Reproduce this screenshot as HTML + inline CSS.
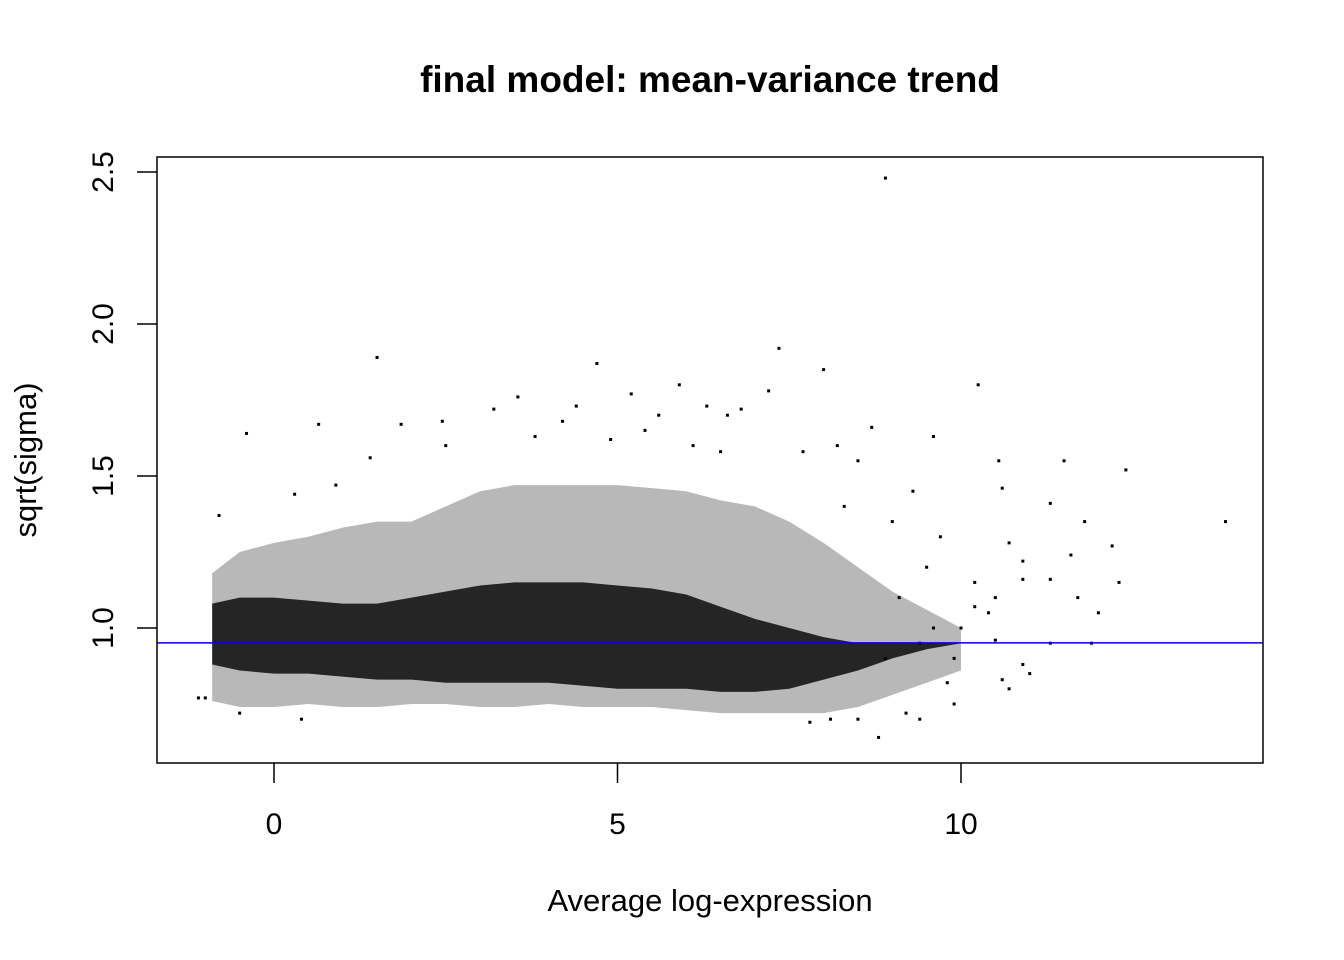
<!DOCTYPE html>
<html><head><meta charset="utf-8"><style>
body{margin:0;background:#fff;}
svg{display:block;font-family:"Liberation Sans",Arial,sans-serif;}
</style></head><body>
<svg id="chart" width="1344" height="960">
<text x="710" y="92" text-anchor="middle" font-size="37" font-weight="bold">final model: mean-variance trend</text>
<text x="710" y="911" text-anchor="middle" font-size="31">Average log-expression</text>
<text transform="translate(36,460) rotate(-90)" text-anchor="middle" font-size="31">sqrt(sigma)</text>
<g id="plot"></g>
<rect x="157" y="157" width="1106" height="606" fill="none" stroke="#000" stroke-width="1.5"/>
</svg>
<script>
const xTicks=[0,5,10];
const yTicks=[1.0,1.5,2.0,2.5];
const yTickLabels=["1.0","1.5","2.0","2.5"];
const trendValue=0.951;
const binX=[-0.9,-0.5,0,0.5,1,1.5,2,2.5,3,3.5,4,4.5,5,5.5,6,6.5,7,7.5,8,8.5,9,9.5,10];
const envLow=[0.76,0.74,0.74,0.75,0.74,0.74,0.75,0.75,0.74,0.74,0.75,0.74,0.74,0.74,0.73,0.72,0.72,0.72,0.72,0.74,0.78,0.82,0.86];
const envHigh=[1.18,1.25,1.28,1.3,1.33,1.35,1.35,1.4,1.45,1.47,1.47,1.47,1.47,1.46,1.45,1.42,1.4,1.35,1.28,1.2,1.12,1.06,1.0];
const coreLow=[0.88,0.86,0.85,0.85,0.84,0.83,0.83,0.82,0.82,0.82,0.82,0.81,0.8,0.8,0.8,0.79,0.79,0.8,0.83,0.86,0.9,0.93,0.95];
const coreHigh=[1.08,1.1,1.1,1.09,1.08,1.08,1.1,1.12,1.14,1.15,1.15,1.15,1.14,1.13,1.11,1.07,1.03,1.0,0.97,0.95,0.95,0.95,0.95];
const outX=[-0.4,1.5,0.65,1.85,2.45,3.55,4.4,4.7,5.2,5.9,6.3,7.35,7.2,8.0,8.9,10.25,9.6,10.55,11.5,12.4,13.85,11.3,11.8,12.2,12.3,11.7,12.0,11.3,11.6,10.7,10.9,10.5,10.6,10.7,10.9,11.3,11.9,10.5,10.2,10.0,9.8,9.4,9.9,8.8,9.2,9.5,9.0,9.3,8.5,8.7,8.2,7.7,6.8,6.6,10.6,10.9,9.7,10.2,9.9,8.5,7.8,8.1,-1.1,-1.0,-0.5,0.4,-0.8,0.3,0.9,1.4,2.5,3.2,3.8,4.2,5.6,6.1,6.5,5.4,4.9,9.1,9.6,10.4,11.0,8.3,8.9,9.4];
const outY=[1.64,1.89,1.67,1.67,1.68,1.76,1.73,1.87,1.77,1.8,1.73,1.92,1.78,1.85,2.48,1.8,1.63,1.55,1.55,1.52,1.35,1.41,1.35,1.27,1.15,1.1,1.05,1.16,1.24,1.28,1.16,1.1,0.83,0.8,0.88,0.95,0.95,0.96,1.07,1.0,0.82,0.7,0.75,0.64,0.72,1.2,1.35,1.45,1.55,1.66,1.6,1.58,1.72,1.7,1.46,1.22,1.3,1.15,0.9,0.7,0.69,0.7,0.77,0.77,0.72,0.7,1.37,1.44,1.47,1.56,1.6,1.72,1.63,1.68,1.7,1.6,1.58,1.65,1.62,1.1,1.0,1.05,0.85,1.4,0.9,0.95];
const sx=v=>274+(v-0)*68.7;
const sy=v=>628-(v-1.0)*304;
const NS="http://www.w3.org/2000/svg";
const g=document.getElementById('plot');
function mk(t,a){const e=document.createElementNS(NS,t);for(const k in a)e.setAttribute(k,a[k]);g.appendChild(e);return e;}
function band(lo,hi){let p=binX.map((x,i)=>sx(x)+','+sy(hi[i]));for(let i=binX.length-1;i>=0;i--)p.push(sx(binX[i])+','+sy(lo[i]));return p.join(' ');}
const env=mk('polygon',{points:band(envLow,envHigh),fill:'#000','fill-opacity':0.28});


const core=mk('polygon',{points:band(coreLow,coreHigh),fill:'#000','fill-opacity':0.8});


outX.forEach((x,i)=>{const d=mk('rect',{x:sx(x)-1.5,y:sy(outY[i])-1.5,width:3,height:3,fill:'#000'});

});
const tl=mk('line',{x1:157,x2:1263,y1:sy(trendValue),y2:sy(trendValue),stroke:'#0000ff','stroke-width':1.5});


xTicks.forEach(v=>{const l=mk('line',{x1:sx(v),x2:sx(v),y1:763,y2:783,stroke:'#000','stroke-width':1.5});


const t=mk('text',{x:sx(v),y:834,'text-anchor':'middle','font-size':30});t.textContent=v;

});
yTicks.forEach((v,i)=>{const l=mk('line',{x1:137,x2:157,y1:sy(v),y2:sy(v),stroke:'#000','stroke-width':1.5});


const t=mk('text',{transform:`translate(113,${sy(v)}) rotate(-90)`,'text-anchor':'middle','font-size':30});t.textContent=yTickLabels[i];

});
</script>
</body></html>
